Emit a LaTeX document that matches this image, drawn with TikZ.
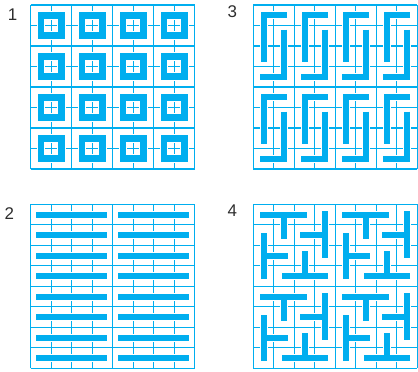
\documentclass[tikz,border=0pt]{standalone}
\usepackage{fontspec}
\setmainfont{Liberation Sans}
\definecolor{cyanink}{RGB}{0,174,239}
\definecolor{digitgray}{RGB}{45,45,45}
\tikzset{
  gln/.style={cyanink, line width=1bp},
  bln/.style={cyanink, line width=1.5bp},
  bar/.style={cyanink, line width=5.9bp, preaction={draw=white, line width=8bp}},
  ring/.style={cyanink, line width=6.6bp, preaction={draw=white, line width=8.7bp}},
  dig/.style={inner sep=0pt, text=digitgray, font=\fontsize{17}{20}\selectfont},
}
\begin{document}
\begin{tikzpicture}[x=1bp, y=-1bp]
  \useasboundingbox (0,0) rectangle (418,372);
  % panel labels
  \node[dig] (lab1) at (12.7,15) {1};
  \node[dig] (lab2) at (9.3,214) {2};
  \node[dig] (lab3) at (232.3,12) {3};
  \node[dig] (lab4) at (232.3,211) {4};
  % 1: square rings
  \begin{scope}[shift={(30.7,5)}, x=20.5bp, y=-20.5bp]
    \foreach \k in {0,...,8} {\draw[gln] (\k,0) -- (\k,8); \draw[gln] (0,\k) -- (8,\k);}
    \foreach \k in {0,2,...,8} {\draw[bln] (\k,0) -- (\k,8); \draw[bln] (0,\k) -- (8,\k);}
    \foreach \i in {0,...,3} \foreach \j in {0,...,3}
      \draw[ring] (2*\i+0.5,2*\j+0.5) rectangle (2*\i+1.5,2*\j+1.5);
  \end{scope}
  % 2: horizontal bars
  \begin{scope}[shift={(30.7,204.3)}, x=20.5bp, y=-20.5bp]
    \foreach \k in {0,...,8} {\draw[gln] (\k,0) -- (\k,8); \draw[gln] (0,\k) -- (8,\k);}
    \foreach \k in {0,4,8} \draw[bln] (\k,0) -- (\k,8);
    \draw[bln] (0,0) -- (8,0) (0,8) -- (8,8);
    \foreach \r in {0,...,7}
      \draw[bar] (0.28,\r+0.5) -- (3.72,\r+0.5) (4.28,\r+0.5) -- (7.72,\r+0.5);
  \end{scope}
  % 3: meander hooks
  \begin{scope}[shift={(253.3,5)}, x=20.5bp, y=-20.5bp]
    \foreach \k in {0,...,8} {\draw[gln] (\k,0) -- (\k,8); \draw[gln] (0,\k) -- (8,\k);}
    \foreach \k in {0,2,...,8} {\draw[bln] (\k,0) -- (\k,8); \draw[bln] (0,\k) -- (8,\k);}
    \foreach \i in {0,...,3} \foreach \j in {0,1} {
      \begin{scope}[shift={(2*\i,4*\j)}]
        \draw[bar] (1.65,0.5) -- (0.5,0.5) -- (0.5,2.8);
        \draw[bar] (1.5,1.2) -- (1.5,3.5) -- (0.35,3.5);
      \end{scope}
    }
  \end{scope}
  % 4: pinwheel of tees
  \begin{scope}[shift={(253.3,204.3)}, x=20.5bp, y=-20.5bp]
    \foreach \k in {0,...,8} {\draw[gln] (\k,0) -- (\k,8); \draw[gln] (0,\k) -- (8,\k);}
    \foreach \k in {0,2,...,8} {\draw[bln] (\k,0) -- (\k,8); \draw[bln] (0,\k) -- (8,\k);}
    \foreach \i in {0,1} \foreach \j in {0,1} {
      \begin{scope}[shift={(4*\i,4*\j)}]
        \draw[bar] (0.35,0.5) -- (2.6,0.5) (1.5,0.5) -- (1.5,1.7);
        \draw[bar] (3.5,0.35) -- (3.5,2.6) (3.5,1.5) -- (2.3,1.5);
        \draw[bar] (3.65,3.5) -- (1.4,3.5) (2.5,3.5) -- (2.5,2.3);
        \draw[bar] (0.5,3.65) -- (0.5,1.4) (0.5,2.5) -- (1.7,2.5);
      \end{scope}
    }
  \end{scope}
\end{tikzpicture}
\end{document}
